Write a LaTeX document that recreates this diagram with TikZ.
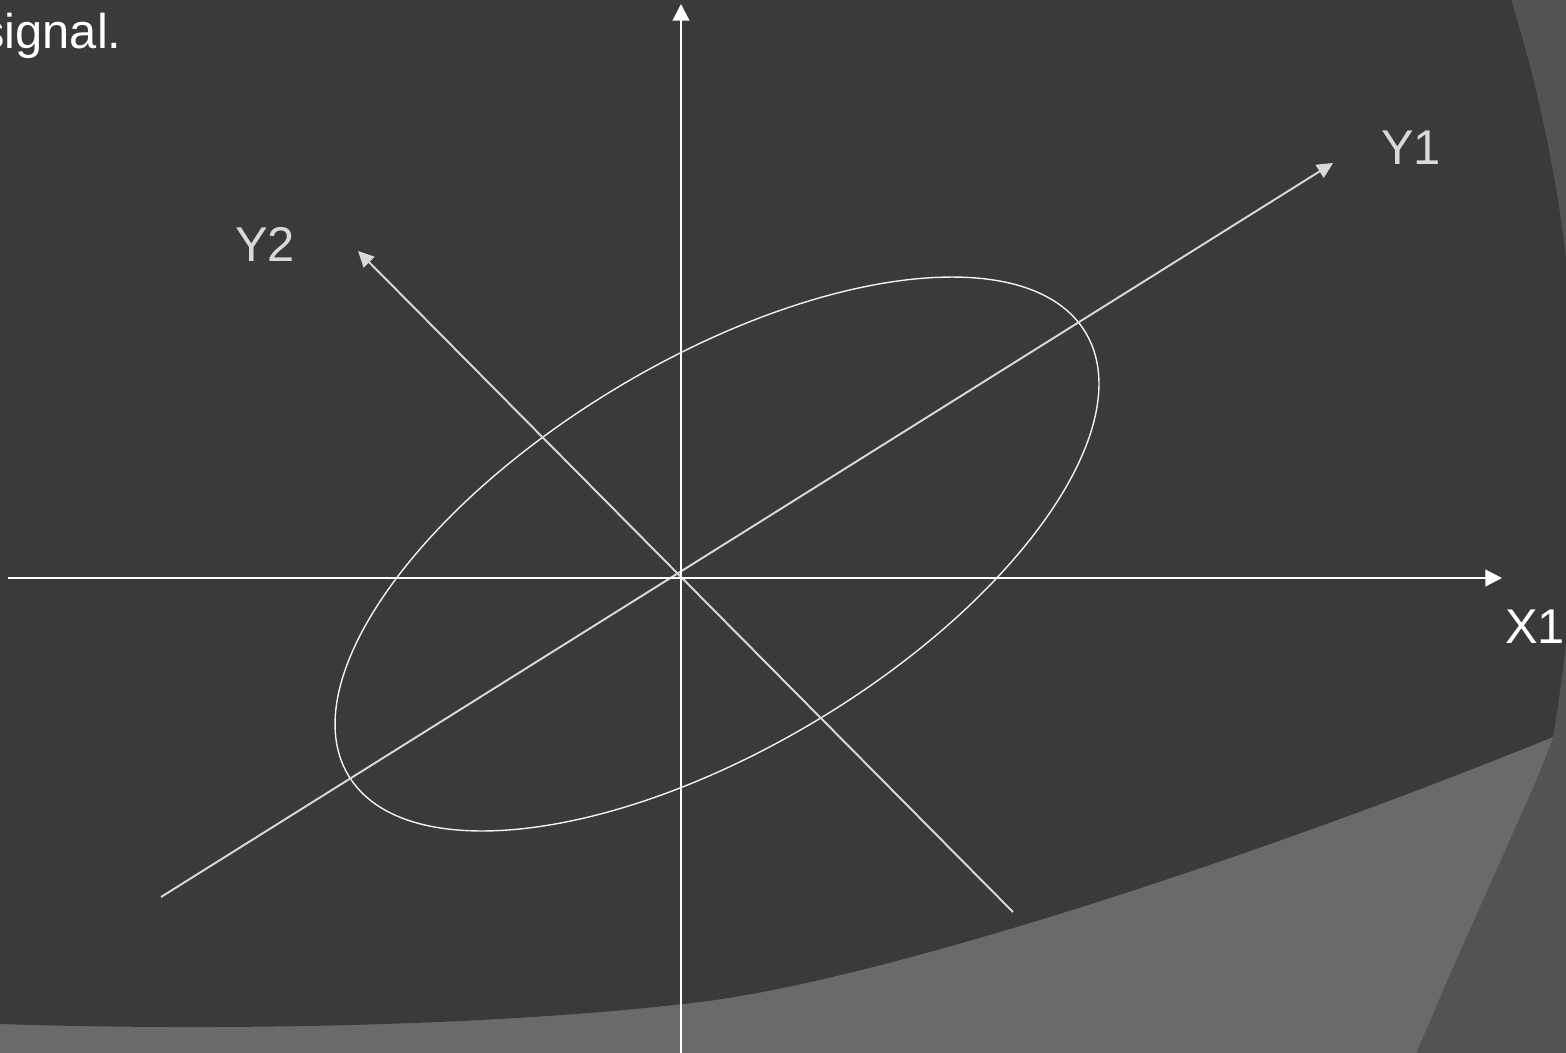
\documentclass[tikz,border=0pt]{standalone}
\usepackage{fontspec}
\setmainfont{Liberation Sans}
\usetikzlibrary{arrows.meta}
\definecolor{bgdark}{HTML}{3A3A3A}
\definecolor{bglight}{HTML}{6A6A6A}
\definecolor{bgmid}{HTML}{535353}
\definecolor{axisgray}{HTML}{D9D9D9}
\definecolor{ellcol}{HTML}{F2F2F2}
\begin{document}
\begin{tikzpicture}[x=0.02cm,y=-0.02cm,
  mainaxis/.style={draw=white,line width=1.2pt,-{Triangle[length=9.5pt,width=9.5pt]}},
  rotaxis/.style={draw=axisgray,line width=1.1pt,-{Triangle[length=9pt,width=8.6pt]}},
  lbl/.style={inner sep=0pt,font=\fontsize{27.8}{33}\selectfont}]
\useasboundingbox (0,0) rectangle (1566,1052);
\begin{scope}
\clip (0,0) rectangle (1566,1052);
\fill[bgmid] (-10,-10) rectangle (1580,1080);
\fill[bglight] (-10,1080) -- (-10,950) -- (1553,737)
  .. controls (1535,790) and (1480,900) .. (1405,1080) -- cycle;
\fill[bgdark] (-10,-10) -- (1508,-10)
  .. controls (1575,200) and (1600,450) .. (1553,737)
  .. controls (1250,860) and (880,980) .. (700,1002)
  .. controls (520,1024) and (250,1032) .. (0,1024)
  -- (-10,1024) -- cycle;
\end{scope}
% ellipse
\draw[ellcol,line width=0.8pt,rotate around={31:(717,554)}] (717,554) ellipse [x radius=430, y radius=194];
% axes
\coordinate (xs) at (8,578);
\coordinate (xe) at (1502,578);
\coordinate (vs) at (681,1060);
\coordinate (ve) at (681,4);
\coordinate (y1s) at (161,897);
\coordinate (y1e) at (1333,163);
\coordinate (y2s) at (1013,912);
\coordinate (y2e) at (358,251);
\draw[rotaxis] (y1s) -- (y1e);
\draw[rotaxis] (y2s) -- (y2e);
\draw[mainaxis] (xs) -- (xe);
\draw[mainaxis] (vs) -- (ve);
% labels
\node[lbl,text=axisgray] (y1lab) at (1411,148) {Y1};
\node[lbl,text=axisgray] (y2lab) at (265,244) {Y2};
\node[lbl,text=white] (x1lab) at (1535,627) {X1};
\node[lbl,text=white,anchor=base west] (sig) at (-20,48) {signal.};
\end{tikzpicture}
\end{document}
